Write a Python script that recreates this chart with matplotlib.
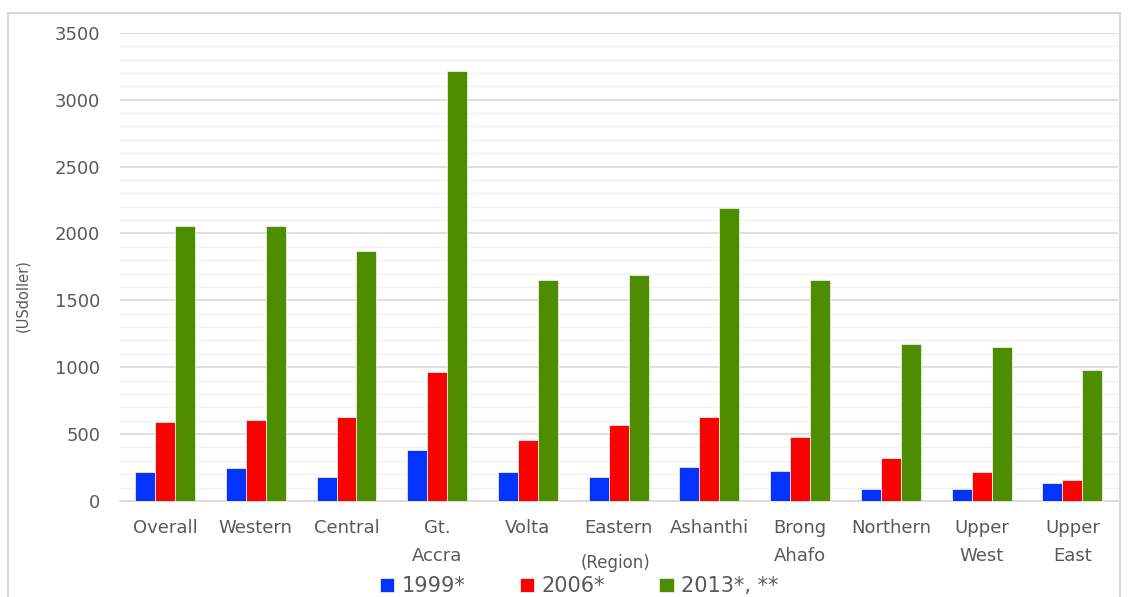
import numpy as np
import matplotlib.pyplot as plt
from matplotlib.patches import Rectangle

plt.rcParams['font.family'] = ['DejaVu Sans']

regions = ['Overall', 'Western', 'Central', 'Gt.\nAccra', 'Volta', 'Eastern',
           'Ashanthi', 'Brong\nAhafo', 'Northern', 'Upper\nWest', 'Upper\nEast']
v1999 = [217, 247, 180, 381, 217, 180, 254, 227, 87, 87, 137]
v2006 = [591, 606, 628, 965, 456, 568, 628, 474, 324, 215, 155]
v2013 = [2057, 2057, 1870, 3216, 1653, 1690, 2192, 1653, 1172, 1150, 975]
series = ['1999*', '2006*', '2013*, **']
colors = ['#0433ff', '#ff0000', '#4e8c00']

fig = plt.figure(figsize=(11.29, 5.97), dpi=100)
ax = fig.add_axes([0.106, 0.161, 0.884, 0.784])

x = np.arange(len(regions))
w = 0.22
for i, (vals, name, c) in enumerate(zip([v1999, v2006, v2013], series, colors)):
    ax.bar(x + (i - 1) * w, vals, w, color=c, label=name,
           edgecolor='#e8f0e0', linewidth=0.6, zorder=3)

ax.set_xlim(-0.5, len(regions) - 0.5)
ax.set_ylim(0, 3500)
ax.set_yticks(np.arange(0, 3501, 500))
ax.set_yticks(np.arange(0, 3501, 100), minor=True)
ax.grid(axis='y', which='major', color='#d9d9d9', linewidth=1.2, zorder=0)
ax.grid(axis='y', which='minor', color='#f0f0f0', linewidth=1.0, zorder=0)
ax.set_xticks(x)
ax.set_xticklabels(regions, fontsize=13, color='#595959', linespacing=1.75)
ax.tick_params(axis='both', which='both', length=0, labelsize=13, colors='#595959')
ax.tick_params(axis='y', pad=14)
ax.tick_params(axis='x', pad=13)
for s in ['top', 'right', 'left']:
    ax.spines[s].set_visible(False)
ax.spines['bottom'].set_color('#d9d9d9')
ax.spines['bottom'].set_linewidth(1.2)

fig.text(0.02, 0.505, '(USdoller)', rotation=90, fontsize=10.5, color='#595959',
         va='center', ha='center')
fig.text(0.545, 0.057, '(Region)', fontsize=12, color='#595959', ha='center', va='center')

fig.legend(loc='center', bbox_to_anchor=(0.513, 0.018), ncol=3, frameon=False,
           fontsize=15, handlelength=0.7, handleheight=0.7, handletextpad=0.35,
           columnspacing=2.6, labelcolor='#595959')

fig.patches.append(Rectangle((0.007, -0.1), 0.985, 1.078, transform=fig.transFigure,
                             fill=False, edgecolor='#d9d9d9', linewidth=1.5))

fig.savefig('out.png', dpi=100)
